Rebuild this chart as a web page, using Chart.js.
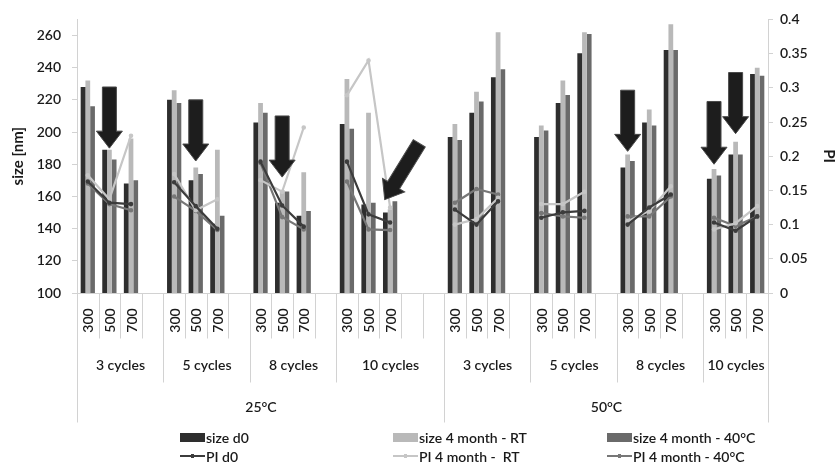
<!DOCTYPE html>
<html>
<head>
<meta charset="utf-8">
<script src="https://cdn.jsdelivr.net/npm/chart.js@4.4.0/dist/chart.umd.min.js"></script>
<style>
  html, body { margin: 0; padding: 0; background: #fff; }
  #wrap { position: relative; width: 838px; height: 467px; }
  #legend {
    position: absolute; left: 180px; top: 429px;
    display: grid; grid-template-columns: 213px 214px 210px; row-gap: 3px;
    font: 600 14px Lato, sans-serif; color: #1a1a1a;
  }
  .item { display: flex; align-items: center; height: 16px; white-space: pre; }
  .sym { width: 25px; height: 16px; margin-right: 1px; position: relative; }
  .box { position: absolute; left: 0; top: 4px; width: 25px; height: 9px; }
  .ln { position: absolute; left: 0; top: 7px; width: 25px; height: 2px; }
  .dot { position: absolute; left: 11px; top: 6px; width: 3px; height: 4px; }
</style>
</head>
<body>
<div id="wrap">
  <canvas id="chart" width="838" height="467"></canvas>
  <div id="legend"></div>
</div>
<script>
const temps = ['25°C', '50°C'];
const cycles = ['3 cycles', '5 cycles', '8 cycles', '10 cycles'];
const sizes = ['300', '500', '700'];
// empty categories after each cycle group
const gapsAfter = [[1, 1, 1, 2], [1, 1, 1, 0]];

// 8 groups x 3 sizes, 25°C first then 50°C
const sizeD0 = [228, 189, 168, 220, 170, 143, 206, 156, 148, 205, 155, 150,
                197, 212, 234, 197, 218, 249, 178, 206, 251, 171, 186, 236];
const sizeRT = [232, 189, 196, 226, 178, 189, 218, 164, 175, 233, 212, 152,
                205, 225, 262, 204, 232, 262, 186, 214, 267, 177, 194, 240];
const size40 = [216, 183, 170, 218, 174, 148, 212, 163, 151, 202, 156, 157,
                195, 219, 239, 201, 223, 261, 182, 204, 251, 173, 186, 235];

const piD0 = [0.163, 0.132, 0.130, 0.162, 0.127, 0.094, 0.192, 0.128, 0.097, 0.192, 0.115, 0.103,
              0.122, 0.100, 0.134, 0.110, 0.118, 0.120, 0.100, 0.125, 0.144, 0.103, 0.091, 0.112];
const piRT = [0.172, 0.137, 0.230, 0.174, 0.121, 0.137, 0.165, 0.148, 0.242, 0.289, 0.340, 0.125,
              0.100, 0.108, 0.139, 0.130, 0.130, 0.148, 0.105, 0.120, 0.156, 0.093, 0.102, 0.127];
const pi40 = [0.160, 0.130, 0.121, 0.141, 0.120, 0.092, 0.190, 0.111, 0.093, 0.163, 0.093, 0.092,
              0.132, 0.152, 0.144, 0.117, 0.112, 0.110, 0.112, 0.112, 0.141, 0.110, 0.098, 0.112];

// arrows: data point index, tail and tip in nm, optional shifts in categories
const arrows = [
  { point: 1, tail: 228, tip: 190 },
  { point: 4, tail: 220, tip: 182 },
  { point: 7, tail: 210, tip: 172 },
  { point: 11, tail: 193, tip: 158, tailShift: 1.35, tipShift: -0.25 },
  { point: 18, tail: 226, tip: 188 },
  { point: 21, tail: 219, tip: 180 },
  { point: 22, tail: 237, tip: 199 }
];

// build categories for the multi level axis
const catSize = [], catPoint = [], cycleRuns = [], tempRuns = [];
let pt = 0;
temps.forEach((t, ti) => {
  const tStart = catSize.length;
  cycles.forEach((c, ci) => {
    const cStart = catSize.length;
    const n = sizes.length + gapsAfter[ti][ci];
    for (let k = 0; k < n; k++) {
      if (k < sizes.length) { catSize.push(sizes[k]); catPoint.push(pt++); }
      else { catSize.push(''); catPoint.push(-1); }
    }
    cycleRuns.push({ label: c, start: cStart, end: catSize.length });
  });
  tempRuns.push({ label: t, start: tStart, end: catSize.length });
});
const spread = arr => catPoint.map(j => j < 0 ? null : arr[j]);
const catOfPoint = j => catPoint.indexOf(j);

const font = 'Lato, sans-serif';
const textColor = '#1a1a1a';

const barDs = (label, arr, color) => ({
  type: 'bar', label, data: spread(arr), backgroundColor: color, yAxisID: 'y',
  order: 2, categoryPercentage: 0.66, barPercentage: 1.0
});
const lineDs = (label, arr, color) => ({
  type: 'line', label, data: spread(arr), borderColor: color, backgroundColor: color,
  borderWidth: 2.2, pointRadius: 1.2, pointHoverRadius: 1.2, yAxisID: 'y1',
  order: 1, spanGaps: false, tension: 0
});

const datasets = [
  barDs('size d0', sizeD0, '#2e2e2e'),
  barDs('size 4 month - RT', sizeRT, '#b9b9b9'),
  barDs('size 4 month - 40°C', size40, '#6a6a6a'),
  lineDs('PI d0', piD0, '#3c3c3c'),
  lineDs('PI 4 month -  RT', piRT, '#c6c6c6'),
  lineDs('PI 4 month - 40°C', pi40, '#777777')
];

function drawArrow(ctx, x1, y1, x2, y2) {
  const L = Math.hypot(x2 - x1, y2 - y1);
  const hl = 17, sw = 7, hw = 13;
  ctx.save();
  ctx.translate(x1, y1);
  ctx.rotate(Math.atan2(y2 - y1, x2 - x1));
  ctx.beginPath();
  ctx.moveTo(0, -sw); ctx.lineTo(L - hl, -sw); ctx.lineTo(L - hl, -hw);
  ctx.lineTo(L, 0); ctx.lineTo(L - hl, hw); ctx.lineTo(L - hl, sw); ctx.lineTo(0, sw);
  ctx.closePath();
  ctx.fillStyle = '#1d1d1d';
  ctx.fill();
  ctx.strokeStyle = '#4a4a4a';
  ctx.lineWidth = 1;
  ctx.stroke();
  ctx.restore();
}

const multiLevel = {
  id: 'multiLevel',
  afterDatasetsDraw(chart) {
    const { ctx, scales: { x, y } } = chart;
    const w = x.getPixelForValue(1) - x.getPixelForValue(0);
    arrows.forEach(a => {
      const c = catOfPoint(a.point);
      const xt = x.getPixelForValue(c) + (a.tipShift || 0) * w;
      const xs = x.getPixelForValue(c) + (a.tailShift || 0) * w;
      drawArrow(ctx, xs, y.getPixelForValue(a.tail), xt, y.getPixelForValue(a.tip));
    });
  },
  afterDraw(chart) {
    const { ctx, chartArea: a, scales: { x } } = chart;
    const w = x.getPixelForValue(1) - x.getPixelForValue(0);
    const edge = i => Math.round(x.getPixelForValue(0) - w / 2 + i * w) + 0.5;
    const yb = Math.round(a.bottom) + 0.5;
    ctx.save();
    ctx.strokeStyle = '#d2d2d2';
    ctx.lineWidth = 1;
    ctx.beginPath();
    ctx.moveTo(a.left, yb); ctx.lineTo(a.right, yb);
    const tempEdges = new Set(tempRuns.flatMap(r => [r.start, r.end]));
    const cycleEdges = new Set(cycleRuns.flatMap(r => [r.start, r.end]));
    for (let i = 0; i <= catSize.length; i++) {
      const len = tempEdges.has(i) ? 129 : cycleEdges.has(i) ? 89 : 45;
      ctx.moveTo(edge(i), yb); ctx.lineTo(edge(i), yb + len);
    }
    ctx.stroke();

    ctx.fillStyle = textColor;
    ctx.font = '600 14px ' + font;
    ctx.textAlign = 'center';
    ctx.textBaseline = 'middle';
    catSize.forEach((s, i) => {
      if (!s) return;
      ctx.save();
      ctx.translate(x.getPixelForValue(i), yb + 27);
      ctx.rotate(-Math.PI / 2);
      ctx.fillText(s, 0, 1);
      ctx.restore();
    });
    cycleRuns.forEach(r => {
      ctx.fillText(r.label, (edge(r.start) + edge(r.end)) / 2, yb + 72);
    });
    tempRuns.forEach(r => {
      ctx.fillText(r.label, (edge(r.start) + edge(r.end)) / 2, yb + 114);
    });
    ctx.restore();
  }
};

new Chart(document.getElementById('chart'), {
  type: 'bar',
  data: { labels: catSize, datasets },
  options: {
    responsive: false,
    animation: false,
    layout: { padding: { top: 15, left: 0, right: 0, bottom: 0 } },
    plugins: { legend: { display: false }, tooltip: { enabled: false } },
    scales: {
      x: {
        offset: true,
        grid: { display: false },
        border: { display: false },
        ticks: { display: false },
        afterFit: s => { s.height = 174; }
      },
      y: {
        position: 'left',
        min: 100, max: 270,
        ticks: { stepSize: 20, padding: 11, color: textColor, font: { family: font, size: 14, weight: '600' } },
        afterBuildTicks: s => { s.ticks = s.ticks.filter(t => t.value % 20 === 0); },
        grid: { drawOnChartArea: false, drawTicks: true, tickLength: 5, color: '#d2d2d2' },
        border: { color: '#d2d2d2' },
        title: { display: true, text: 'size [nm]', color: textColor, padding: { top: 9 },
                 font: { family: font, size: 15, weight: 'bold' } },
        afterFit: s => { s.width = 77; }
      },
      y1: {
        position: 'right',
        min: 0, max: 0.4,
        ticks: { stepSize: 0.05, padding: 7, color: textColor, font: { family: font, size: 14, weight: '600' },
                 callback: v => String(+v.toFixed(2)) },
        grid: { drawOnChartArea: false, drawTicks: true, tickLength: 5, color: '#d2d2d2' },
        border: { color: '#d2d2d2' },
        title: { display: true, text: 'PI', color: textColor, padding: { top: 0 },
                 font: { family: font, size: 15, weight: 'bold' } },
        afterFit: s => { s.width = 70; }
      }
    }
  },
  plugins: [multiLevel]
});

// legend, three columns: bars on first row, lines on second
const legend = document.getElementById('legend');
datasets.forEach(ds => {
  const item = document.createElement('div');
  item.className = 'item';
  const sym = document.createElement('span');
  sym.className = 'sym';
  if (ds.type === 'bar') {
    sym.innerHTML = '<span class="box" style="background:' + ds.backgroundColor + '"></span>';
  } else {
    sym.innerHTML = '<span class="ln" style="background:' + ds.borderColor + '"></span>' +
                    '<span class="dot" style="background:' + ds.borderColor + '"></span>';
  }
  item.appendChild(sym);
  item.appendChild(document.createTextNode(ds.label));
  legend.appendChild(item);
});
</script>
</body>
</html>
